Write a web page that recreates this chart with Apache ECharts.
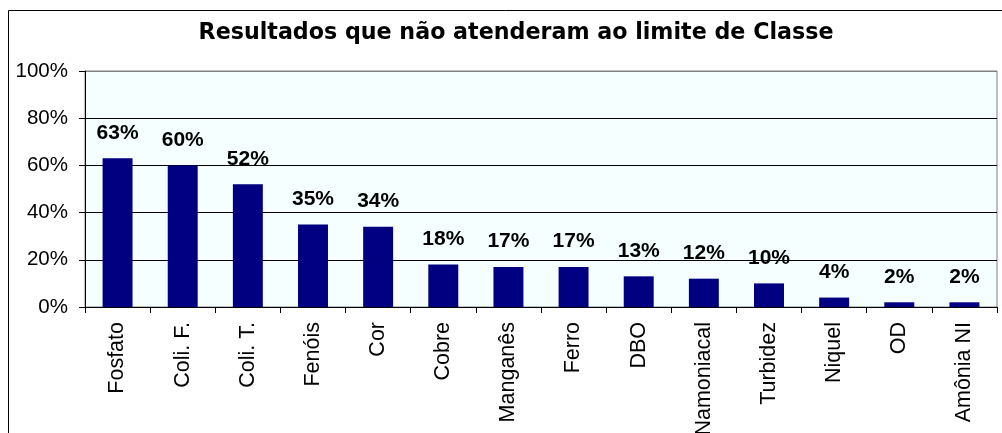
<!DOCTYPE html>
<html>
<head>
<meta charset="utf-8">
<script src="https://cdn.jsdelivr.net/npm/echarts@6/dist/echarts.min.js"></script>
<style>
html,body{margin:0;padding:0;background:#fff;}
#chart{width:1002px;height:433px;}
</style>
</head>
<body>
<div id="chart"></div>
<script>
var titleText = 'Resultados que não atenderam ao limite de Classe';
var categories = ['Fosfato','Coli. F.','Coli. T.','Fenóis','Cor','Cobre','Manganês','Ferro','DBO','Namoniacal','Turbidez','Niquel','OD','Amônia NI'];
var values = [63, 60, 52, 35, 34, 18, 17, 17, 13, 12, 10, 4, 2, 2];
var yTicks = {min: 0, max: 100, interval: 20};

var chart = echarts.init(document.getElementById('chart'), null, {renderer: 'canvas'});
chart.setOption({
  animation: false,
  backgroundColor: '#ffffff',
  title: {
    text: titleText,
    left: 511,
    textAlign: 'center',
    top: 17,
    textStyle: {fontFamily: 'DejaVu Sans', fontWeight: 'bold', fontSize: 22.2, color: '#000'}
  },
  graphic: [{
    type: 'rect',
    shape: {x: 8.5, y: 10.5, width: 1100, height: 500},
    style: {fill: 'none', stroke: '#000', lineWidth: 1},
    z: -1
  }],
  grid: {
    left: 85, top: 71, right: 5, bottom: 126,
    outerBoundsMode: 'none',
    containLabel: false,
    show: true,
    backgroundColor: '#F5FFFF',
    borderColor: '#808080',
    borderWidth: 1
  },
  xAxis: {
    type: 'category',
    data: categories,
    boundaryGap: true,
    axisLine: {show: true, lineStyle: {color: '#000', width: 1}},
    axisTick: {show: true, length: 6, alignWithLabel: false, lineStyle: {color: '#000'}},
    axisLabel: {rotate: 90, margin: 15, interval: 0, fontFamily: 'Liberation Sans', fontSize: 21.5, color: '#000'},
    splitLine: {show: false}
  },
  yAxis: {
    type: 'value',
    min: yTicks.min, max: yTicks.max, interval: yTicks.interval,
    axisLine: {show: true, lineStyle: {color: '#000', width: 1}},
    axisTick: {show: true, length: 6, lineStyle: {color: '#000'}},
    axisLabel: {formatter: '{value}%', margin: 17, fontFamily: 'Liberation Sans', fontSize: 20.5, color: '#000'},
    splitLine: {show: true, lineStyle: {color: ['#000','#000','#000','#000','#000','#808080'], width: 1}}
  },
  series: [{
    type: 'bar',
    data: values,
    barWidth: '46%',
    itemStyle: {color: '#000080'},
    label: {
      show: true,
      position: 'top',
      distance: 15,
      formatter: '{c}%',
      fontFamily: 'Liberation Sans',
      fontWeight: 'bold',
      fontSize: 21,
      color: '#000'
    }
  }]
});
</script>
</body>
</html>
